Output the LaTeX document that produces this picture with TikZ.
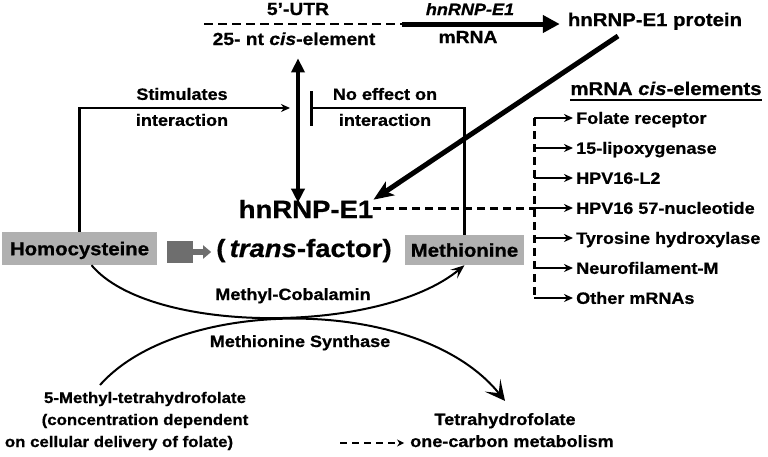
\documentclass[tikz,border=0pt]{standalone}
\usepackage{fontspec}
\setmainfont{Liberation Sans}[FakeStretch=1.1,BoldFeatures={FakeBold=0.8},BoldItalicFeatures={FakeBold=0.8}]
\usetikzlibrary{arrows.meta}
\newcommand{\fsz}[1]{\fontsize{#1}{#1}\selectfont\bfseries}

\begin{document}
\begin{tikzpicture}[x=1pt,y=-1pt,inner sep=0pt,font=\fsz{16.4},
  gray box/.style={fill=black!31,text depth=0pt,font=\fsz{18.5}},
  item/.style={anchor=west,text height=11.7pt,text depth=0pt}]
\tikzstyle{thin arrow} = [draw,line width=2.5pt,-{Stealth[length=9pt,width=8pt]}]
\tikzstyle{fat arrow} = [draw,line width=5pt]
\tikzstyle{dash line} = [draw,line width=3pt,dash pattern=on 8pt off 5pt]
\tikzstyle{path arrow} = [draw,line width=2pt]

\useasboundingbox (0,0) rectangle (768,456);

% top: 5'-UTR and mRNA
\node[anchor=base,font=\fsz{17.5}] (utr) at (298,15) {5’-UTR};
\node[anchor=base,font=\fsz{17.5}] (cis) at (294,45) {25- nt \textit{cis}-element};
\node[anchor=base] (mrnaname) at (470,15) {\textit{hnRNP-E1}};
\node[anchor=base,font=\fsz{17.5}] (mrna) at (468,43) {mRNA};
\node[anchor=base,font=\fsz{18.5}] (prot) at (655,26) {hnRNP-E1 protein};

\coordinate (utrstart) at (204,24);
\coordinate (utrstop) at (402,24);
\draw[line width=1.5pt,dash pattern=on 9pt off 5pt] (utrstart) -- (utrstop);
\draw[fat arrow,-{Triangle[length=17pt,width=17pt]},shorten >=8pt] (utrstop) -- (prot.west |- utrstop);

% trans-factor
\node[anchor=base,font=\fsz{25}] (hn) at (306,218) {hnRNP-E1};
\node[anchor=base,font=\fsz{25}] (trans) at (304,257) {(\,\textit{trans}-factor)};
\node[gray box,minimum width=155pt,minimum height=33pt] (homo) at (79.5,248.5) {Homocysteine};
\node[gray box,minimum width=119pt,minimum height=30pt] (meth) at (464.5,250) {Methionine};
\node[fill=black!57,minimum width=26pt,minimum height=22pt] (blk) at (180,252) {};
\draw[line width=6pt,black!57,-{Triangle[length=8pt,width=13pt]},shorten >=5pt] (blk.east) -- (blk.east -| trans.west);

\coordinate (axis) at (298,0);
\draw[line width=4pt,{Triangle[length=14pt,width=13pt]}-{Triangle[length=14pt,width=13pt]},shorten <=13pt,shorten >=-3pt] (cis.south -| axis) -- (hn.north -| axis);

\coordinate (protfoot) at (618,36);
\draw[fat arrow,-{Stealth[length=20pt,width=16pt,inset=5pt]}] (protfoot) -- (hn.north east);

% interaction
\node[align=center,font=\fontsize{16.4}{26}\selectfont\bfseries] (stim) at (182,107) {Stimulates\\interaction};
\node[align=center,font=\fontsize{16.4}{26}\selectfont\bfseries] (noeff) at (385,107) {No effect on\\interaction};
\coordinate (stimtip) at (290,108);
\coordinate (bar) at (310,108);
\draw[thin arrow] (homo.north) |- (stimtip);
\draw[line width=2.5pt,-{Bar[width=35pt]}] (meth.north) |- (bar);

% mRNA cis-elements
\node[anchor=base,font=\fsz{18.5}] (hdr) at (666,95) {mRNA \textit{cis}-elements};
\draw[line width=2pt] ([yshift=-5pt]hdr.south west) -- ([yshift=-5pt]hdr.south east);

\coordinate (spinetop) at (534,118);
\coordinate (spinebot) at (534,298);
\draw[dash line] (spinetop) -- (spinebot);
\draw[dash line] (hn.east) -- (hn.east -| spinetop);

\node[item] (fol) at (576,118) {Folate receptor};
\node[item] (lip) at (576,148) {15-lipoxygenase};
\node[item] (hpvl) at (576,178) {HPV16-L2};
\node[item] (hpvn) at (576,208) {HPV16 57-nucleotide};
\node[item] (tyr) at (576,238) {Tyrosine hydroxylase};
\node[item] (neu) at (576,268) {Neurofilament-M};
\node[item] (oth) at (576,298) {Other mRNAs};

\draw[thin arrow,shorten >=3pt] (fol.west -| spinetop) -- (fol.west);
\draw[thin arrow,shorten >=3pt] (lip.west -| spinetop) -- (lip.west);
\draw[thin arrow,shorten >=3pt] (hpvl.west -| spinetop) -- (hpvl.west);
\draw[thin arrow,shorten >=3pt] (hpvn.west -| spinetop) -- (hpvn.west);
\draw[thin arrow,shorten >=3pt] (tyr.west -| spinetop) -- (tyr.west);
\draw[thin arrow,shorten >=3pt] (neu.west -| spinetop) -- (neu.west);
\draw[thin arrow,shorten >=3pt] (oth.west -| spinetop) -- (oth.west);

% methionine synthase cycle
\node[anchor=base] (cob) at (293,300) {Methyl-Cobalamin};
\node[anchor=base] (syn) at (300,347) {Methionine Synthase};
\node[anchor=base,font=\fsz{15.3}] (mthfa) at (145,403) {5-Methyl-tetrahydrofolate};
\node[anchor=base,font=\fsz{15.3}] (mthfb) at (145,425) {(concentration dependent};
\node[anchor=base,font=\fsz{15.3}] (mthfc) at (119,447) {on cellular delivery of folate)};
\node[anchor=base] (thf) at (505,425) {Tetrahydrofolate};
\node[anchor=base] (onec) at (512,447) {one-carbon metabolism};

\draw[path arrow,-{Stealth[length=14pt,width=11pt,inset=6pt]}] ([xshift=12pt]homo.south) .. controls (150,335) and (380,335) .. (meth.south);
\coordinate (mthftop) at (100,385);
\draw[path arrow,-{Stealth[length=20pt,width=20pt,inset=10pt]}] (mthftop) .. controls (180,295) and (420,295) .. ([yshift=12pt]thf.north);

\coordinate (dashstart) at (340,443);
\draw[line width=2pt,dash pattern=on 7pt off 5pt,-{Stealth[length=7pt,width=7pt]},shorten >=6pt] (dashstart) -- (dashstart -| onec.west);

\end{tikzpicture}
\end{document}
